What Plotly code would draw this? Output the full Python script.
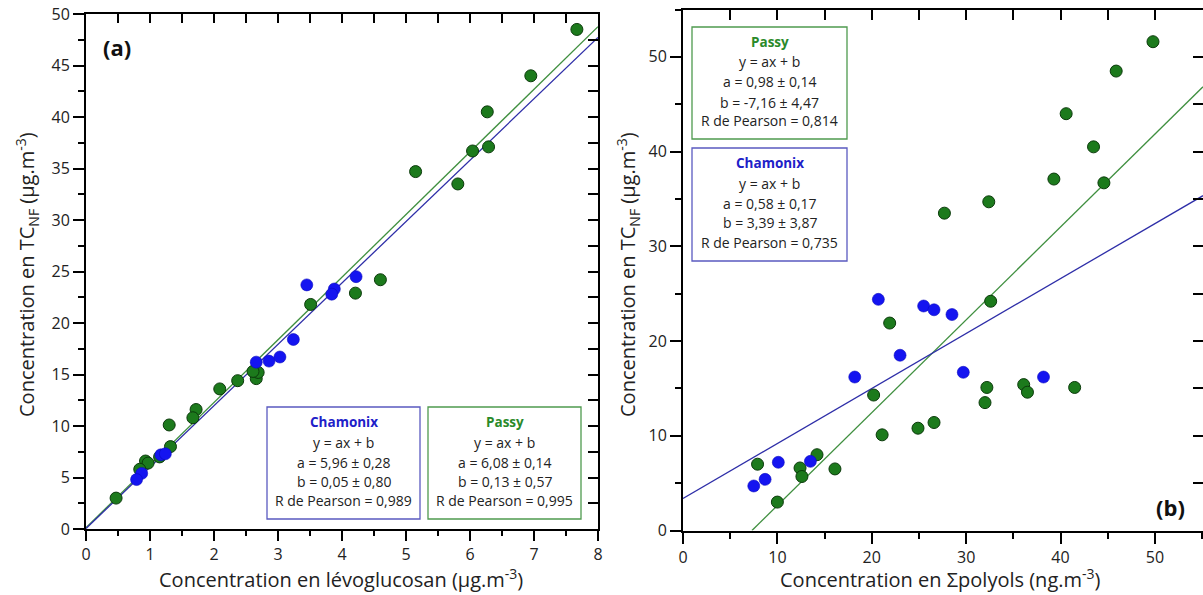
import plotly.graph_objects as go

# ---------------- data ----------------
# Panel (a): TC_NF vs levoglucosan
levo_cham_x = [3.45, 4.22, 3.88, 3.84, 2.66, 2.86, 3.03, 3.24, 1.17, 1.24, 0.87, 0.79]
levo_cham_y = [23.7, 24.5, 23.3, 22.8, 16.2, 16.3, 16.7, 18.4, 7.2, 7.3, 5.4, 4.8]
levo_passy_x = [7.67, 6.95, 6.27, 6.04, 6.29, 5.15, 5.81, 4.60, 4.21, 3.51, 2.09, 2.37,
                2.66, 2.69, 2.61, 1.72, 1.67, 1.30, 1.32, 0.93, 0.97, 0.84, 1.15, 0.47]
levo_passy_y = [48.5, 44.0, 40.5, 36.7, 37.1, 34.7, 33.5, 24.2, 22.9, 21.8, 13.6, 14.4,
                14.6, 15.2, 15.3, 11.6, 10.8, 10.1, 8.0, 6.6, 6.4, 5.8, 7.0, 3.0]

# Panel (b): TC_NF vs sum of polyols
poly_cham_x = [20.7, 25.5, 26.6, 28.5, 23.0, 18.2, 29.7, 38.2, 10.1, 13.5, 8.7, 7.5]
poly_cham_y = [24.4, 23.7, 23.3, 22.8, 18.5, 16.2, 16.7, 16.2, 7.2, 7.3, 5.4, 4.7]
poly_passy_x = [49.8, 45.9, 40.6, 43.5, 39.3, 44.6, 32.4, 27.7, 32.6, 21.9, 20.2, 21.1,
                24.9, 26.6, 32.0, 32.2, 36.1, 36.5, 41.5, 7.9, 12.4, 12.6, 14.2, 16.1, 10.0]
poly_passy_y = [51.6, 48.5, 44.0, 40.5, 37.1, 36.7, 34.7, 33.5, 24.2, 21.9, 14.3, 10.1,
                10.8, 11.4, 13.5, 15.1, 15.4, 14.6, 15.1, 7.0, 6.6, 5.7, 8.0, 6.5, 3.0]

# Regression parameters (a, b) and stats shown in the boxes
fit_a_levo = {"Chamonix": (5.96, 0.05), "Passy": (6.08, 0.13)}
fit_b_poly = {"Chamonix": (0.58, 3.39), "Passy": (0.98, -7.16)}
box_a = {
    "Chamonix": ["y = ax + b", "a = 5,96 ± 0,28", "b = 0,05 ± 0,80", "R de Pearson = 0,989"],
    "Passy": ["y = ax + b", "a = 6,08 ± 0,14", "b = 0,13 ± 0,57", "R de Pearson = 0,995"],
}
box_b = {
    "Passy": ["y = ax + b", "a = 0,98 ± 0,14", "b = -7,16 ± 4,47", "R de Pearson = 0,814"],
    "Chamonix": ["y = ax + b", "a = 0,58 ± 0,17", "b = 3,39 ± 3,87", "R de Pearson = 0,735"],
}
xticks_a = [0, 1, 2, 3, 4, 5, 6, 7, 8]
yticks_a = [0, 5, 10, 15, 20, 25, 30, 35, 40, 45, 50]
xticks_b = [0, 10, 20, 30, 40, 50]
yticks_b = [0, 10, 20, 30, 40, 50]

# ---------------- style ----------------
W, H = 1203, 595
FONT = "Open Sans"
BLUE_M = "#1414f0"
BLUE_L = "#2e2ea8"
BLUE_T = "#2020c8"
GREEN_M = "#1c7a1c"
GREEN_L = "#3f8f3f"
GREEN_T = "#2a8a2a"
GREEN_EDGE = "#0b3a0b"


def px(x):
    return x / W


def py(y):
    return 1 - y / H


fig = go.Figure()


def fit_line(a, b, x0, x1, xa, ya, color):
    xs = [x0, x1]
    if b < 0:
        xs = [-b / a, x1]
    ys = [a * v + b for v in xs]
    fig.add_trace(go.Scatter(x=xs, y=ys, mode="lines", xaxis=xa, yaxis=ya,
                             line=dict(color=color, width=1.3), showlegend=False,
                             hoverinfo="skip"))


# panel (a) lines and points
fit_line(*fit_a_levo["Passy"], 0, 8, "x", "y", GREEN_L)
fit_line(*fit_a_levo["Chamonix"], 0, 8, "x", "y", BLUE_L)
fig.add_trace(go.Scatter(x=levo_passy_x, y=levo_passy_y, mode="markers", xaxis="x", yaxis="y",
                         marker=dict(size=12, color=GREEN_M, line=dict(color=GREEN_EDGE, width=1)),
                         showlegend=False))
fig.add_trace(go.Scatter(x=levo_cham_x, y=levo_cham_y, mode="markers", xaxis="x", yaxis="y",
                         marker=dict(size=12, color=BLUE_M, line=dict(color="#0a0ac0", width=0.6)),
                         showlegend=False))

# panel (b) lines and points
fit_line(*fit_b_poly["Passy"], 0, 55.1, "x2", "y2", GREEN_L)
fit_line(*fit_b_poly["Chamonix"], 0, 55.1, "x2", "y2", BLUE_L)
fig.add_trace(go.Scatter(x=poly_passy_x, y=poly_passy_y, mode="markers", xaxis="x2", yaxis="y2",
                         marker=dict(size=12, color=GREEN_M, line=dict(color=GREEN_EDGE, width=1)),
                         showlegend=False))
fig.add_trace(go.Scatter(x=poly_cham_x, y=poly_cham_y, mode="markers", xaxis="x2", yaxis="y2",
                         marker=dict(size=12, color=BLUE_M, line=dict(color="#0a0ac0", width=0.6)),
                         showlegend=False))

# empty traces to activate mirror-tick overlay axes
for xa, ya in (("x3", "y3"), ("x4", "y4")):
    fig.add_trace(go.Scatter(x=[], y=[], xaxis=xa, yaxis=ya, showlegend=False, hoverinfo="skip"))

tickfont = dict(family=FONT, size=16, color="#222222")
base = dict(showgrid=False, zeroline=False, showline=True, linecolor="black", linewidth=2,
            tickcolor="black", tickwidth=2, tickfont=tickfont, fixedrange=True, automargin=False)

dom_xa = [px(86), px(598)]
dom_ya = [py(529), py(14)]
dom_xb = [px(683), 1.0]
dom_yb = [py(530.5), py(9.5)]

layout = dict(
    width=W, height=H, margin=dict(l=0, r=0, t=0, b=0, pad=0, autoexpand=False),
    plot_bgcolor="white", paper_bgcolor="white", showlegend=False,
    xaxis=dict(base, domain=dom_xa, range=[0, 8], tickvals=xticks_a, ticks="outside", ticklen=10,
               minor=dict(dtick=0.5, ticks="outside", ticklen=5, tickwidth=2, tickcolor="black"),
               anchor="y"),
    yaxis=dict(base, domain=dom_ya, range=[0, 50], tickvals=yticks_a, ticks="outside", ticklen=11,
               minor=dict(dtick=2.5, ticks="outside", ticklen=6, tickwidth=2, tickcolor="black"),
               anchor="x"),
    xaxis3=dict(base, overlaying="x", side="top", anchor="y", range=[0, 8], tickvals=xticks_a,
                ticks="inside", ticklen=9, showticklabels=False,
                minor=dict(dtick=0.5, ticks="inside", ticklen=9, tickwidth=2, tickcolor="black")),
    yaxis3=dict(base, overlaying="y", side="right", anchor="x", range=[0, 50], tickvals=yticks_a,
                ticks="inside", ticklen=10, showticklabels=False,
                minor=dict(dtick=2.5, ticks="inside", ticklen=10, tickwidth=2, tickcolor="black")),
    xaxis2=dict(base, domain=dom_xb, range=[0, 55.1], tickvals=xticks_b, ticks="outside", ticklen=11,
                minor=dict(dtick=5, ticks="outside", ticklen=6, tickwidth=2, tickcolor="black"),
                anchor="y2"),
    yaxis2=dict(base, domain=dom_yb, range=[0, 55], tickvals=yticks_b, ticks="outside", ticklen=11,
                minor=dict(dtick=5, ticks="outside", ticklen=6, tickwidth=2, tickcolor="black"),
                anchor="x2"),
    xaxis4=dict(base, overlaying="x2", side="top", anchor="y2", range=[0, 55.1], tickvals=xticks_b,
                ticks="inside", ticklen=10, showticklabels=False,
                minor=dict(dtick=5, ticks="inside", ticklen=10, tickwidth=2, tickcolor="black")),
    yaxis4=dict(base, overlaying="y2", side="right", anchor="x2", range=[0, 55], tickvals=yticks_b,
                ticks="inside", ticklen=10, showticklabels=False,
                minor=dict(dtick=5, ticks="inside", ticklen=10, tickwidth=2, tickcolor="black")),
)
fig.update_layout(**layout)

ann = []
shapes = []


def text(x, y, s, size=13, color="#222222", bold=False, angle=0):
    if bold:
        s = "<b>" + s + "</b>"
    ann.append(dict(x=px(x), y=py(y), xref="paper", yref="paper", text=s, showarrow=False,
                    xanchor="center", yanchor="middle", textangle=angle,
                    font=dict(family=FONT, size=size, color=color)))


def box(x0, y0, x1, y1, title, lines, tcolor, bcolor, ys):
    shapes.append(dict(type="rect", xref="paper", yref="paper", x0=px(x0), x1=px(x1),
                       y0=py(y1), y1=py(y0), line=dict(color=bcolor, width=1.3),
                       fillcolor="white", layer="above"))
    cx = (x0 + x1) / 2
    text(cx, ys[0], title, size=13.5, color=tcolor, bold=True)
    for s, yy in zip(lines, ys[1:]):
        text(cx, yy, s, size=14)


box(267, 407, 420, 519, "Chamonix", box_a["Chamonix"], BLUE_T, "#5a5ac0", [422, 442, 462, 481, 500])
box(428, 407, 581, 519, "Passy", box_a["Passy"], GREEN_T, "#4f9a4f", [422, 442, 462, 481, 500])
box(692, 27, 847, 139, "Passy", box_b["Passy"], GREEN_T, "#4f9a4f", [42, 62, 82, 102, 121])
box(692, 148, 847, 261, "Chamonix", box_b["Chamonix"], BLUE_T, "#5a5ac0", [163, 183, 203, 222, 242])

text(117, 47, "(a)", size=22, color="#111111", bold=True)
text(1170, 507, "(b)", size=22, color="#111111", bold=True)

text(341, 578, "Concentration en lévoglucosan (µg.m<sup>-3</sup>)", size=20)
text(940, 578, "Concentration en Σpolyols (ng.m<sup>-3</sup>)", size=20)
text(27, 275, "Concentration en TC<sub>NF</sub> (µg.m<sup>-3</sup>)", size=20, angle=-90)
text(628, 275, "Concentration en TC<sub>NF</sub> (µg.m<sup>-3</sup>)", size=20, angle=-90)

fig.update_layout(annotations=ann, shapes=shapes)
fig.write_html("out.html", config={"displayModeBar": False},
               post_script="document.body.style.margin='0';document.body.style.overflow='hidden';")
